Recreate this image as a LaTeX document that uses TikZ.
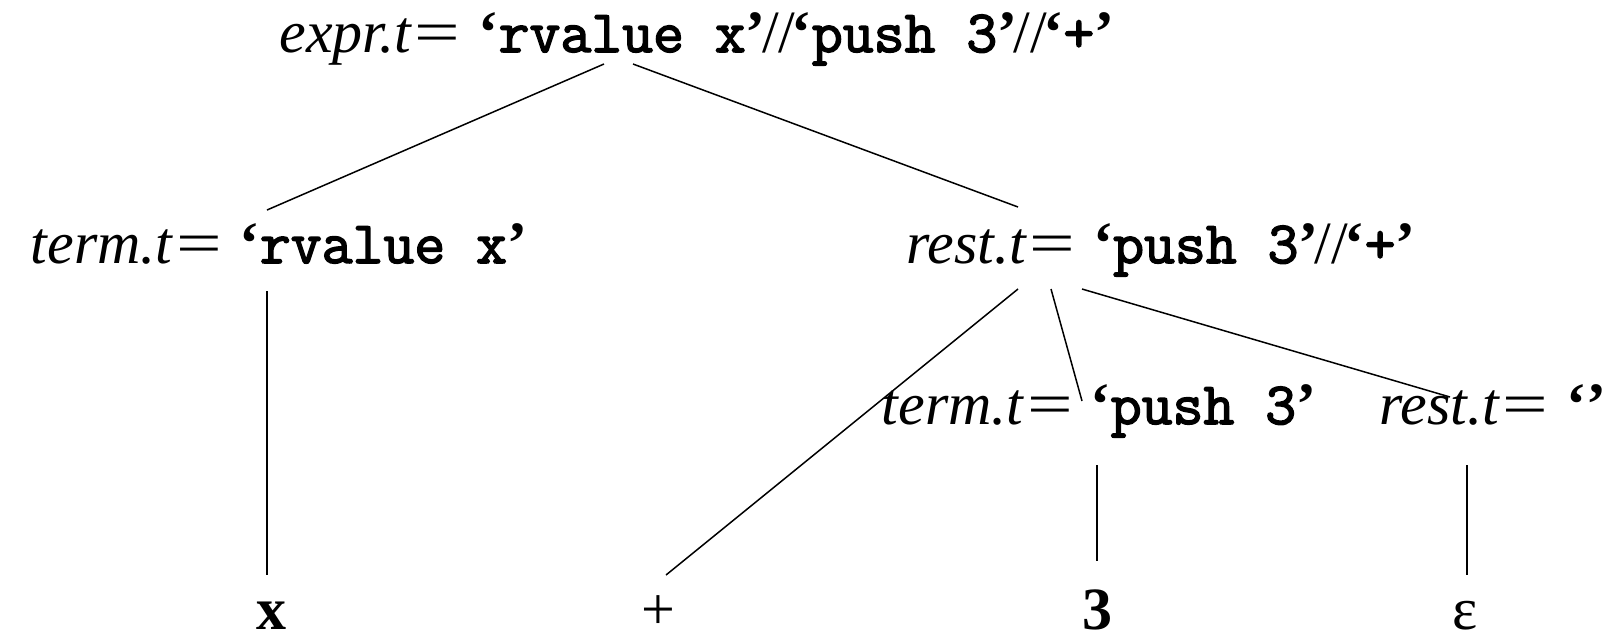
\documentclass[tikz,border=0pt]{standalone}
\usepackage{fontspec}
\usepackage{graphicx}
\setmainfont{Liberation Serif}
\newfontfamily\courfont{Latin Modern Mono}[FakeBold=2.5]
\newcommand{\cd}[1]{{\fontsize{30}{34}\selectfont\courfont #1}}
\newcommand{\myeq}{\kern0.04em\scalebox{1.35}[1]{=}\hspace{0.3em}}
\newcommand{\oq}{\textbf{‘}}
\newcommand{\cq}{\textbf{’}}
\newcommand{\cat}{\kern-0.06em//\kern-0.06em}
\begin{document}
\begin{tikzpicture}[x=0.5pt,y=-0.5pt,
  lbl/.style={inner sep=0pt,anchor=base,font=\fontsize{30}{34}\selectfont},
  leaf/.style={lbl,text depth=0pt},
  edge/.style={line width=0.75pt}]
\useasboundingbox (0,0) rectangle (1620,634);
% labels
\node[lbl] (expr) at (697,52) {\textit{expr.t}\myeq\oq\cd{rvalue x}\cq\cat\oq\cd{push 3}\cq\cat\oq\cd{+}\cq};
\node[lbl] (term) at (279,263) {\textit{term.t}\myeq\oq\cd{rvalue x}\cq};
\node[lbl] (rest) at (1161,263) {\textit{rest.t}\myeq\oq\cd{push 3}\cq\cat\oq\cd{+}\cq};
\node[lbl] (termb) at (1099,424) {\textit{term.t}\myeq\oq\cd{push 3}\cq};
\node[lbl] (restb) at (1493,424) {\textit{rest.t}\myeq\oq\cq};
\node[leaf] (x) at (271,629) {\textbf{x}};
\node[leaf] (plus) at (658,629) {+};
\node[leaf] (three) at (1097,629) {\textbf{3}};
\node[leaf] (eps) at (1465,629) {ε};
% connector ends
\coordinate (exprL) at (604,64);
\coordinate (exprR) at (633,64);
\coordinate (termT) at (267,210);
\coordinate (restT) at (1018,207);
\coordinate (termB) at (267,291);
\coordinate (xT) at (267,575);
\coordinate (restB1) at (1018,289);
\coordinate (restB2) at (1051,289);
\coordinate (restB3) at (1082,289);
\coordinate (plusT) at (666,575);
\coordinate (termbT) at (1082,401);
\coordinate (restbT) at (1450,397);
\coordinate (termbB) at (1097,465);
\coordinate (threeT) at (1097,561);
\coordinate (restbB) at (1467,465);
\coordinate (epsT) at (1467,575);
% connectors
\draw[edge] (exprL) -- (termT);
\draw[edge] (exprR) -- (restT);
\draw[edge] (termB) -- (xT);
\draw[edge] (restB1) -- (plusT);
\draw[edge] (restB2) -- (termbT);
\draw[edge] (restB3) -- (restbT);
\draw[edge] (termbB) -- (threeT);
\draw[edge] (restbB) -- (epsT);
\end{tikzpicture}
\end{document}
